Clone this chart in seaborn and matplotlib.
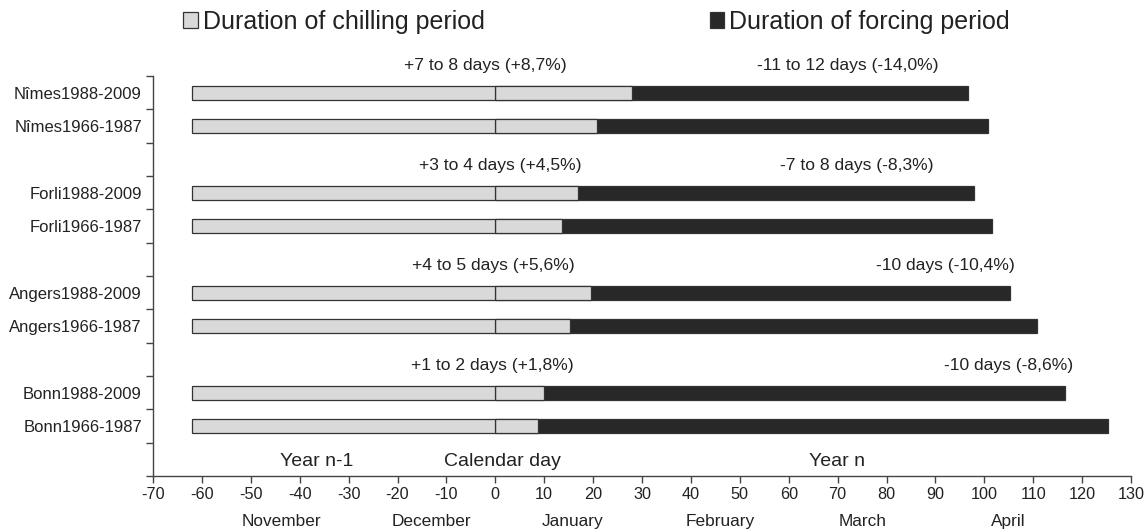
import numpy as np
import pandas as pd
import matplotlib
matplotlib.use("Agg")
import matplotlib.pyplot as plt
from matplotlib.patches import Patch
import seaborn as sns

# données (jours calendaires, 0 = 1er janvier)
sites = ["Nîmes", "Forli", "Angers", "Bonn"]
periods = ["1988-2009", "1966-1987"]
chill_start = -62
chill_end_recent = [27.9, 17.0, 19.6, 10.0]
chill_end_old = [20.7, 13.6, 15.2, 8.8]
forcing_end_recent = [96.7, 97.8, 105.2, 116.5]
forcing_end_old = [100.7, 101.6, 110.7, 125.2]

chill_notes = ["+7 to 8 days (+8,7%)", "+3 to 4 days (+4,5%)",
               "+4 to 5 days (+5,6%)", "+1 to 2 days (+1,8%)"]
forcing_notes = ["-11 to 12 days (-14,0%)", "-7 to 8 days (-8,3%)",
                 "-10 days (-10,4%)", "-10 days (-8,6%)"]
chill_note_x = [-2, 1, -0.3, -0.6]
forcing_note_x = [72, 74, 92, 105]

months = ["November", "December", "January", "February", "March", "April"]
month_x = [-43.8, -13.0, 15.8, 46.0, 75.1, 104.8]

rows = []
for i, site in enumerate(sites):
    vals = [(periods[0], chill_end_recent[i], forcing_end_recent[i]),
            (periods[1], chill_end_old[i], forcing_end_old[i])]
    for j, (p, ce, fe) in enumerate(vals):
        rows.append({"label": site + p, "pos": 3 * i + j,
                     "start": chill_start, "chill": ce, "end": fe})
df = pd.DataFrame(rows)

sns.set_style("ticks")
plt.rcParams["font.family"] = ["Liberation Sans", "DejaVu Sans"]
plt.rcParams["axes.unicode_minus"] = False
txt_col = "#222222"

fig, ax = plt.subplots(figsize=(11.46, 5.32), dpi=100)
fig.subplots_adjust(left=0.1335, right=0.987, top=0.857, bottom=0.105)

common = dict(data=df, y="pos", orient="y", native_scale=True, width=0.42,
              errorbar=None, saturation=1, edgecolor="#333333",
              linewidth=0.9, ax=ax)
# barre sombre pleine, puis la partie froide par-dessus
sns.barplot(x="end", color="#282828", **common)
sns.barplot(x="chill", color="#d9d9d9", **common)
sns.barplot(x="start", color="#d9d9d9", **common)

ax.set_xlim(-70, 130)
ax.set_xticks(range(-70, 131, 10))
ax.set_ylim(11.5, -0.5)
ax.set_yticks(df["pos"])
ax.set_yticklabels(df["label"])
ax.set_yticks(np.arange(-0.5, 12, 1), minor=True)
ax.tick_params(axis="y", which="major", length=0, pad=8, labelsize=12, labelcolor=txt_col)
ax.tick_params(axis="y", which="minor", length=5, width=1, color="#444444", direction="out")
ax.tick_params(axis="x", length=5, width=1, color="#444444", direction="out",
               labelsize=11.7, labelcolor=txt_col, pad=3)
ax.set_xlabel("")
ax.set_ylabel("")
sns.despine(ax=ax)
for s in ["left", "bottom"]:
    ax.spines[s].set_color("#444444")
    ax.spines[s].set_linewidth(1)

for i in range(len(sites)):
    y = 3 * i - 1 + 0.17
    ax.text(chill_note_x[i], y, chill_notes[i], ha="center", va="center",
            fontsize=12.6, color=txt_col, clip_on=False)
    ax.text(forcing_note_x[i], y, forcing_notes[i], ha="center", va="center",
            fontsize=12.6, color=txt_col, clip_on=False)

ax.text(-36.5, 11.07, "Year n-1", ha="center", va="center", fontsize=14, color=txt_col)
ax.text(1.4, 11.07, "Calendar day", ha="center", va="center", fontsize=14, color=txt_col)
ax.text(69.8, 11.07, "Year n", ha="center", va="center", fontsize=14, color=txt_col)

trans = ax.get_xaxis_transform()
for m, x in zip(months, month_x):
    ax.text(x, -0.1125, m, transform=trans, ha="center", va="center",
            fontsize=12.4, color=txt_col)

handles = [Patch(facecolor="#d9d9d9", edgecolor="#333333", linewidth=0.9),
           Patch(facecolor="#282828", edgecolor="#333333", linewidth=0.9)]
fig.legend(handles, ["Duration of chilling period", "Duration of forcing period"],
           loc="center", bbox_to_anchor=(0.5205, 0.9586), ncol=2, frameon=False,
           fontsize=18, handlelength=0.58, handleheight=0.58, handletextpad=0.2,
           columnspacing=9.0, labelcolor=txt_col, borderpad=0)

fig.savefig("out.png", dpi=100)
